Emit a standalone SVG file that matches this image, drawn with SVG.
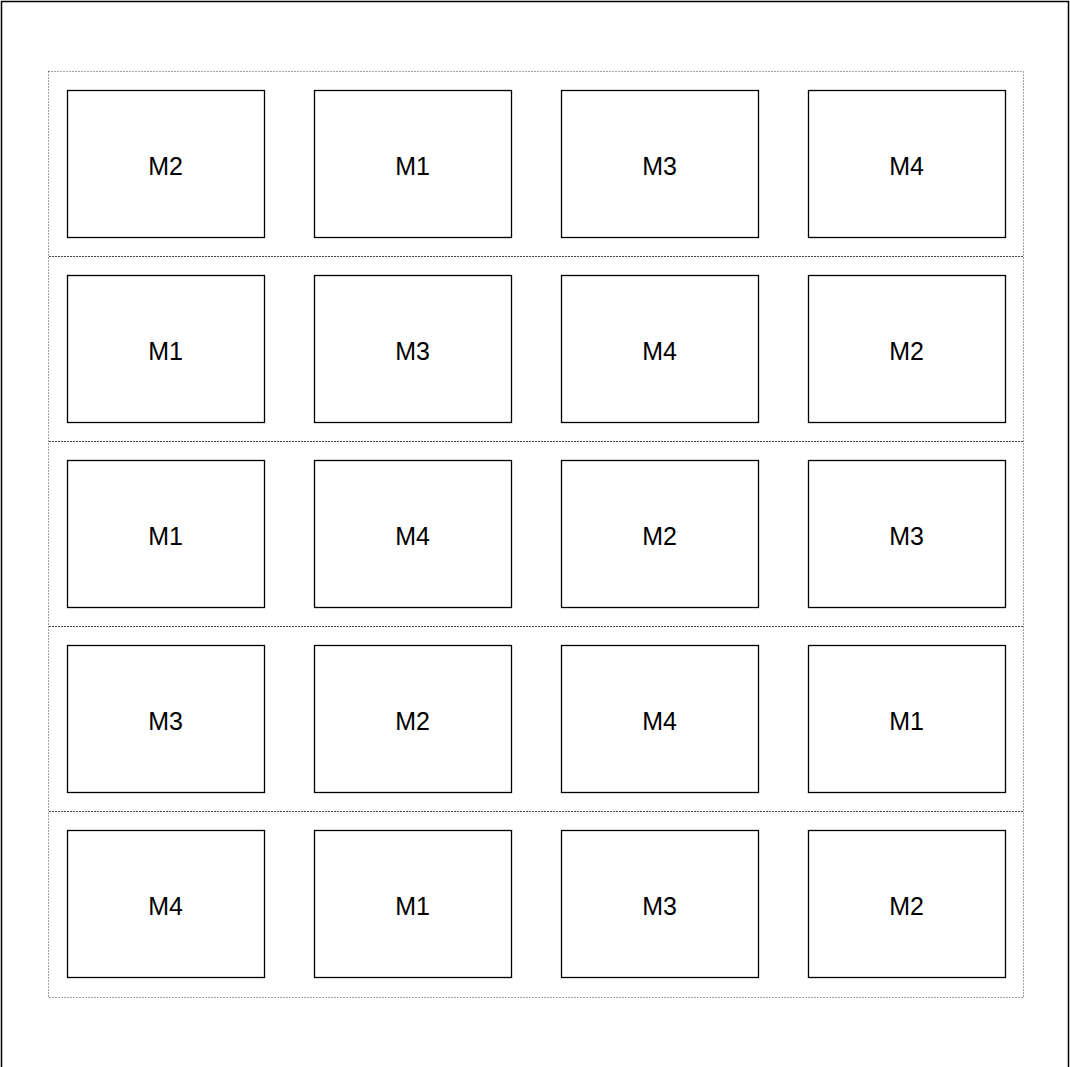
<svg xmlns="http://www.w3.org/2000/svg" width="1070" height="1067" viewBox="0 0 1070 1067">
<style>
.box{fill:#fff;stroke:#000;stroke-width:1.3}
.lbl{font-family:"Liberation Sans",Arial,sans-serif;font-size:25px;fill:#000;text-anchor:middle}
.outer{fill:none;stroke:#444;stroke-width:1;stroke-dasharray:1,2}
.sep{fill:none;stroke:#444;stroke-width:1;stroke-dasharray:2,1}
</style>
<rect width="1070" height="1067" fill="#fff"/>
<path d="M1.5 1100 V1.5 H1068.5 V1100" fill="none" stroke="#000" stroke-width="1.5"/>
<g id="frame">
<rect class="outer" x="48.5" y="71.5" width="975" height="926"/>
<line class="sep" x1="49" y1="256.5" x2="1023" y2="256.5"/>
<line class="sep" x1="49" y1="441.5" x2="1023" y2="441.5"/>
<line class="sep" x1="49" y1="626.5" x2="1023" y2="626.5"/>
<line class="sep" x1="49" y1="811.5" x2="1023" y2="811.5"/>
</g>
<g id="connectors"/>
<g id="r1c1"><rect class="box" x="67.5" y="90.5" width="197" height="147"/><text class="lbl" x="165.5" y="174.5">M2</text></g>
<g id="r1c2"><rect class="box" x="314.5" y="90.5" width="197" height="147"/><text class="lbl" x="412.5" y="174.5">M1</text></g>
<g id="r1c3"><rect class="box" x="561.5" y="90.5" width="197" height="147"/><text class="lbl" x="659.5" y="174.5">M3</text></g>
<g id="r1c4"><rect class="box" x="808.5" y="90.5" width="197" height="147"/><text class="lbl" x="906.5" y="174.5">M4</text></g>
<g id="r2c1"><rect class="box" x="67.5" y="275.5" width="197" height="147"/><text class="lbl" x="165.5" y="359.5">M1</text></g>
<g id="r2c2"><rect class="box" x="314.5" y="275.5" width="197" height="147"/><text class="lbl" x="412.5" y="359.5">M3</text></g>
<g id="r2c3"><rect class="box" x="561.5" y="275.5" width="197" height="147"/><text class="lbl" x="659.5" y="359.5">M4</text></g>
<g id="r2c4"><rect class="box" x="808.5" y="275.5" width="197" height="147"/><text class="lbl" x="906.5" y="359.5">M2</text></g>
<g id="r3c1"><rect class="box" x="67.5" y="460.5" width="197" height="147"/><text class="lbl" x="165.5" y="544.5">M1</text></g>
<g id="r3c2"><rect class="box" x="314.5" y="460.5" width="197" height="147"/><text class="lbl" x="412.5" y="544.5">M4</text></g>
<g id="r3c3"><rect class="box" x="561.5" y="460.5" width="197" height="147"/><text class="lbl" x="659.5" y="544.5">M2</text></g>
<g id="r3c4"><rect class="box" x="808.5" y="460.5" width="197" height="147"/><text class="lbl" x="906.5" y="544.5">M3</text></g>
<g id="r4c1"><rect class="box" x="67.5" y="645.5" width="197" height="147"/><text class="lbl" x="165.5" y="729.5">M3</text></g>
<g id="r4c2"><rect class="box" x="314.5" y="645.5" width="197" height="147"/><text class="lbl" x="412.5" y="729.5">M2</text></g>
<g id="r4c3"><rect class="box" x="561.5" y="645.5" width="197" height="147"/><text class="lbl" x="659.5" y="729.5">M4</text></g>
<g id="r4c4"><rect class="box" x="808.5" y="645.5" width="197" height="147"/><text class="lbl" x="906.5" y="729.5">M1</text></g>
<g id="r5c1"><rect class="box" x="67.5" y="830.5" width="197" height="147"/><text class="lbl" x="165.5" y="914.5">M4</text></g>
<g id="r5c2"><rect class="box" x="314.5" y="830.5" width="197" height="147"/><text class="lbl" x="412.5" y="914.5">M1</text></g>
<g id="r5c3"><rect class="box" x="561.5" y="830.5" width="197" height="147"/><text class="lbl" x="659.5" y="914.5">M3</text></g>
<g id="r5c4"><rect class="box" x="808.5" y="830.5" width="197" height="147"/><text class="lbl" x="906.5" y="914.5">M2</text></g>
</svg>
